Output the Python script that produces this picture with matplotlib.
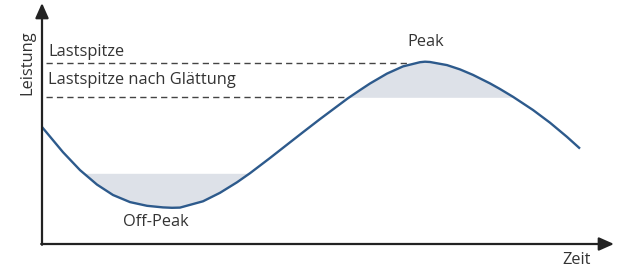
import numpy as np
import matplotlib
matplotlib.use("Agg")
import matplotlib.pyplot as plt

# Lastkurve, x = Zeit, y = Leistung
zeit = [0, 21, 38, 55, 71, 88, 105, 121, 130, 138, 161, 178, 195, 208, 228, 245,
        261, 278, 295, 306, 318, 328, 345, 361, 378, 383, 388, 405, 418, 431, 448,
        458, 471, 491, 508, 525, 538]
leistung = [117, 91.8, 73.9, 59.4, 49.0, 41.9, 38.2, 36.6, 36.2, 36.4, 42.7, 51.2, 61.7,
            70.8, 86.0, 99.3, 111.8, 124.9, 137.6, 145.8, 153.9, 160.5, 170.4, 177.6,
            181.8, 182.3, 182.0, 178.9, 174.6, 169.1, 160.6, 155.0, 147.2, 134.0, 121.3,
            107.1, 95.4]

lastspitze = 181.5
lastspitze_glatt = 146.7
offpeak_niveau = 70.7

zeit = np.array(zeit, dtype=float)
leistung = np.array(leistung, dtype=float)

plt.rcParams['font.family'] = ['Open Sans', 'DejaVu Sans']
textfarbe = '#333333'
kurvenfarbe = '#2d5a8c'
flaeche = '#dde1e8'
fs = 11.8

fig = plt.figure(figsize=(6.21, 2.72), dpi=100)
ax = fig.add_axes([0, 0, 1, 1])
ax.set_xlim(-42, 579)
ax.set_ylim(-28, 244)
ax.axis('off')

# Flaechen
ax.fill_between(zeit, leistung, lastspitze_glatt, where=leistung >= lastspitze_glatt,
                interpolate=True, color=flaeche, lw=0)
ax.fill_between(zeit, leistung, offpeak_niveau, where=leistung <= offpeak_niveau,
                interpolate=True, color=flaeche, lw=0)

# gestrichelte Linien
ax.plot([4, 368], [lastspitze, lastspitze], color='#444444', lw=1.0,
        linestyle=(0, (4.5, 3)))
ax.plot([4, 306], [lastspitze_glatt, lastspitze_glatt], color='#444444', lw=1.0,
        linestyle=(0, (4.5, 3)))

# Kurve
ax.plot(zeit, leistung, color=kurvenfarbe, lw=1.7, solid_capstyle='butt',
        solid_joinstyle='round')

# Achsen mit Pfeilen
pfeil = dict(arrowstyle='-|>,head_length=0.9,head_width=0.4', color='#222222',
             lw=1.6, shrinkA=0, shrinkB=0)
ax.annotate('', xy=(0, 241), xytext=(0, -0.8), arrowprops=pfeil)
ax.annotate('', xy=(572, 0), xytext=(-0.8, 0), arrowprops=pfeil)

# Beschriftungen
ax.text(-15, 181, 'Leistung', rotation=90, ha='center', va='center',
        fontsize=fs, color=textfarbe)
ax.text(535, -16, 'Zeit', ha='center', va='center', fontsize=fs, color=textfarbe)
ax.text(6, 192, 'Lastspitze', ha='left', va='center', fontsize=fs, color=textfarbe)
ax.text(6, 164, 'Lastspitze nach Glättung', ha='left', va='center', fontsize=fs,
        color=textfarbe)
ax.text(384, 202, 'Peak', ha='center', va='center', fontsize=fs, color=textfarbe)
ax.text(113.5, 22, 'Off-Peak', ha='center', va='center', fontsize=fs, color=textfarbe)

fig.savefig('out.png', dpi=100)
